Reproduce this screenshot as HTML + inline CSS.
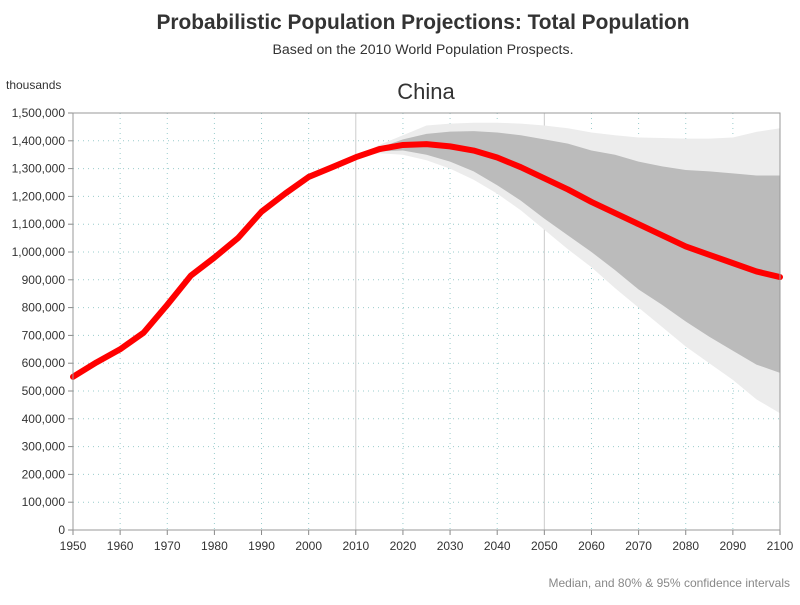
<!DOCTYPE html>
<html><head><meta charset="utf-8">
<style>
body{margin:0;background:#fff;font-family:"Liberation Sans",sans-serif;}
svg text{font-family:"Liberation Sans",sans-serif;}
</style></head>
<body>
<svg id="chart" width="800" height="600" viewBox="0 0 800 600">
<text x="423" y="29" text-anchor="middle" font-size="20.8" font-weight="bold" fill="#333" textLength="533" lengthAdjust="spacingAndGlyphs">Probabilistic Population Projections: Total Population</text>
<text x="423" y="54" text-anchor="middle" font-size="14.2" fill="#333" textLength="301" lengthAdjust="spacingAndGlyphs">Based on the 2010 World Population Prospects.</text>
<text x="426" y="99" text-anchor="middle" font-size="22" fill="#333">China</text>
<text x="6" y="89" font-size="12" fill="#333">thousands</text>
<text x="790" y="587" text-anchor="end" font-size="12" fill="#888">Median, and 80% &amp; 95% confidence intervals</text>
<g id="grid"></g>
<g id="bands"></g>
<g id="lines"></g>
<g id="axes"></g>
</svg>
<script>
const histYears=[1950,1955,1960,1965,1970,1975,1980,1985,1990,1995,2000,2005,2010];
const histValues=[551,603,650,710,810,915,980,1050,1145,1210,1270,1305,1341];
const projYears=[2010,2015,2020,2025,2030,2035,2040,2045,2050,2055,2060,2065,2070,2075,2080,2085,2090,2095,2100];
const median=[1341,1370,1385,1388,1380,1365,1340,1305,1265,1225,1180,1140,1100,1060,1020,990,960,930,910];
const upper80=[1341,1375,1405,1425,1433,1435,1430,1420,1405,1390,1365,1350,1325,1308,1295,1290,1283,1275,1275];
const lower80=[1341,1362,1365,1350,1325,1290,1240,1185,1120,1060,1000,935,865,810,750,695,645,595,565];
const upper95=[1341,1385,1420,1455,1462,1465,1465,1462,1455,1445,1430,1420,1412,1410,1408,1408,1412,1432,1445];
const lower95=[1341,1355,1350,1330,1300,1260,1210,1150,1080,1010,945,870,800,730,660,600,540,470,420];
const xTicks=[1950,1960,1970,1980,1990,2000,2010,2020,2030,2040,2050,2060,2070,2080,2090,2100];
const yTicks=[0,100,200,300,400,500,600,700,800,900,1000,1100,1200,1300,1400,1500];

const NS="http://www.w3.org/2000/svg";
const X0=73,X1=780,Y0=530,Y1=113;
const xs=y=>X0+(y-1950)/150*(X1-X0);
const ys=v=>Y0-v/1500*(Y0-Y1);
function mk(tag,attrs,parent){const e=document.createElementNS(NS,tag);for(const k in attrs)e.setAttribute(k,attrs[k]);parent.appendChild(e);return e;}
const grid=document.getElementById('grid'),bands=document.getElementById('bands'),lines=document.getElementById('lines'),axes=document.getElementById('axes');

yTicks.forEach(v=>{
  if(v>0&&v<1500){const l=mk('line',{x1:X0,x2:X1,y1:ys(v),y2:ys(v),stroke:'#9cc',"stroke-dasharray":'1,4'},grid);
  
  }
  const t=mk('text',{x:X0-8,y:ys(v)+4,"text-anchor":'end',"font-size":'12',fill:'#333'},axes);
  t.textContent=v===0?'0':(v*1000).toLocaleString('en-US');
  
  
  mk('line',{x1:X0-5,x2:X0,y1:ys(v),y2:ys(v),stroke:'#888'},axes);
});
xTicks.forEach(y=>{
  if(y>1950&&y<2100){const sol=(y===2010||y===2050);
  const l=mk('line',{x1:xs(y),x2:xs(y),y1:Y1,y2:Y0,stroke:sol?'#ccc':'#9cc',"stroke-dasharray":sol?'none':'1,4'},grid);
  
  }
  const t=mk('text',{x:xs(y),y:Y0+20,"text-anchor":'middle',"font-size":'12',fill:'#333'},axes);
  t.textContent=y;
  
  
  mk('line',{x1:xs(y),x2:xs(y),y1:Y0,y2:Y0+5,stroke:'#888'},axes);
});
function band(up,lo,fill,name){
  let d=projYears.map((y,i)=>(i?'L':'M')+xs(y)+','+ys(up[i])).join('');
  for(let i=projYears.length-1;i>=0;i--)d+='L'+xs(projYears[i])+','+ys(lo[i]);
  const p=mk('path',{d:d+'Z',fill:fill},bands);
  
  
}
band(upper95,lower95,'#ececec','band-95');
band(upper80,lower80,'#bbbbbb','band-80');
const allY=histYears.concat(projYears.slice(1)),allV=histValues.concat(median.slice(1));
const ml=mk('polyline',{points:allY.map((y,i)=>xs(y)+','+ys(allV[i])).join(' '),fill:'none',stroke:'#ff0000',"stroke-width":'6',"stroke-linejoin":'round',"stroke-linecap":'round'},lines);


const fr=mk('path',{d:`M${X0},${Y1}H${X1}V${Y0}H${X0}Z`,fill:'none',stroke:'#999'},axes);


</script>
</body></html>
